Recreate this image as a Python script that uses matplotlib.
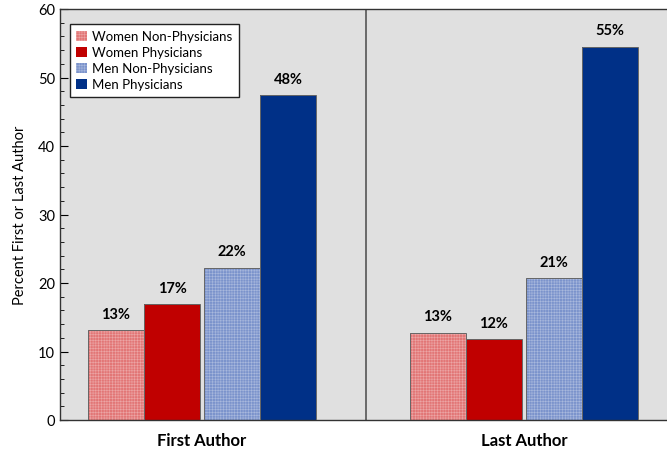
import numpy as np
import matplotlib
matplotlib.use('Agg')
from matplotlib import pyplot as plt
from matplotlib.patches import Patch
from matplotlib.ticker import MultipleLocator

groups = ['First Author', 'Last Author']
series = ['Women Non-Physicians', 'Women Physicians', 'Men Non-Physicians', 'Men Physicians']
values = [
    [13.1, 12.7],   # women non-physicians
    [16.9, 11.8],   # women physicians
    [22.2, 20.7],   # men non-physicians
    [47.4, 54.5],   # men physicians
]
labels = [
    ['13%', '13%'],
    ['17%', '12%'],
    ['22%', '21%'],
    ['48%', '55%'],
]
colors = ['#e27676', '#c00000', '#7b93cc', '#003087']
hatched = [True, False, True, False]

plt.rcParams['font.family'] = ['Lato', 'DejaVu Sans']
plt.rcParams['hatch.linewidth'] = 0.4

fig = plt.figure(figsize=(6.67, 4.52), dpi=100)
ax = fig.add_axes([60 / 667, 31 / 452, 1 - 60 / 667, 411 / 452])
ax.set_facecolor('#e0e0e0')

centers = np.array([0.464, 1.516])
w = 0.183
g = 0.013
offsets = [-g / 2 - 1.5 * w, -g / 2 - 0.5 * w, g / 2 + 0.5 * w, g / 2 + 1.5 * w]
hatch_col = (1, 1, 1, 0.35)

handles = []
for i, name in enumerate(series):
    x = centers + offsets[i]
    if hatched[i]:
        ax.bar(x, values[i], w, color=colors[i], edgecolor=hatch_col,
               hatch='++++++', linewidth=0, zorder=2)
        handles.append(Patch(facecolor=colors[i], edgecolor=hatch_col,
                             hatch='++++++', linewidth=0, label=name))
    else:
        ax.bar(x, values[i], w, color=colors[i], linewidth=0, zorder=2)
        handles.append(Patch(facecolor=colors[i], linewidth=0, label=name))
    ax.bar(x, values[i], w, fill=False, edgecolor='#666666', linewidth=0.7, zorder=3)
    for xi, v, lab in zip(x, values[i], labels[i]):
        ax.text(xi, v + 1.4, lab, ha='center', va='bottom', fontsize=10.5,
                fontweight='bold', zorder=4)

ax.axvline(1.0, color='#555555', linewidth=1.2, zorder=1)

ax.set_xlim(0, 1.984)
ax.set_ylim(0, 60)
ax.yaxis.set_major_locator(MultipleLocator(10))
ax.yaxis.set_minor_locator(MultipleLocator(2))
ax.tick_params(axis='y', which='both', direction='in', right=False, labelsize=10.5)
ax.tick_params(axis='y', which='major', length=6)
ax.tick_params(axis='y', which='minor', length=3)
ax.set_xticks(centers)
ax.set_xticklabels(groups, fontsize=12, fontweight='bold')
ax.tick_params(axis='x', length=0, pad=9)
ax.set_ylabel('Percent First or Last Author', fontsize=10.5, labelpad=8)

ax.spines['right'].set_visible(False)
for s in ['left', 'top', 'bottom']:
    ax.spines[s].set_color('#333333')
    ax.spines[s].set_linewidth(1.0)

leg = ax.legend(handles=handles, loc='upper left', bbox_to_anchor=(0.005, 0.98),
                fontsize=9.5, frameon=True, fancybox=False, framealpha=1,
                edgecolor='#222222', handlelength=0.8, handleheight=0.8,
                handletextpad=0.4, borderpad=0.5, labelspacing=0.3)
leg.get_frame().set_linewidth(1.0)

fig.savefig('out.png', dpi=100)
